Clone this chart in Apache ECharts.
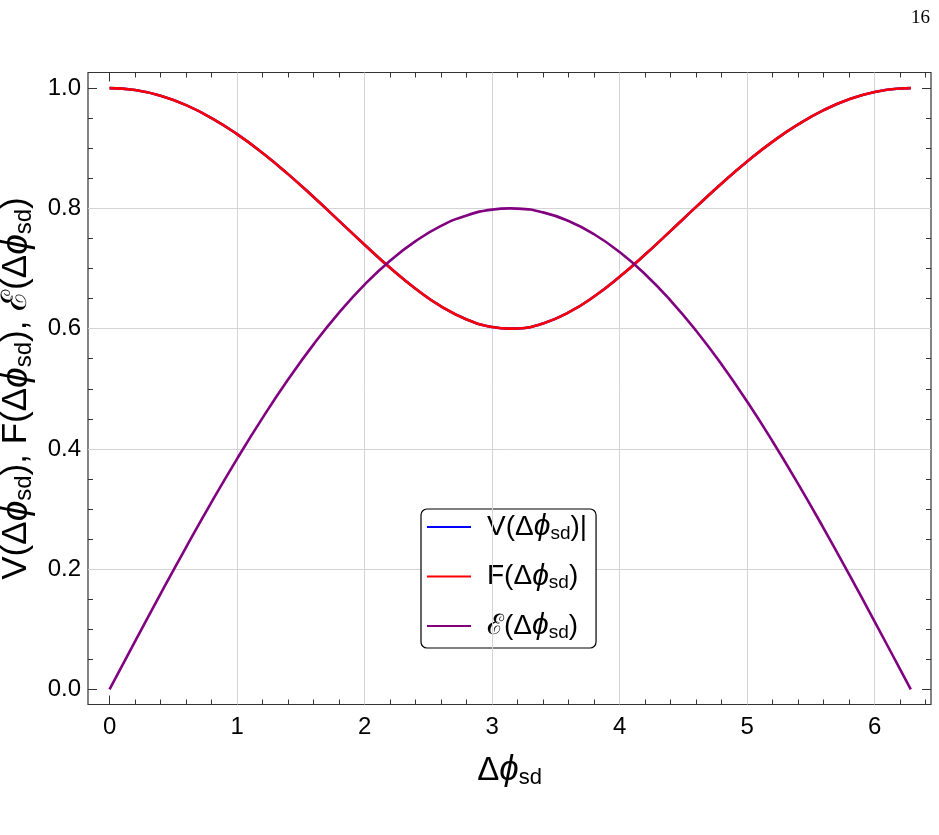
<!DOCTYPE html>
<html>
<head>
<meta charset="utf-8">
<script src="https://cdn.jsdelivr.net/npm/echarts@6/dist/echarts.min.js"></script>
<style>
  html, body { margin: 0; padding: 0; background: #fff; }
  #chart { width: 939px; height: 835px; }
</style>
</head>
<body>
<div id="chart"></div>
<script>
// phase difference samples
var phi = [0, 0.2, 0.4, 0.6, 0.8, 1.0, 1.2, 1.4, 1.6, 1.8, 2.0, 2.2, 2.4, 2.6, 2.8, 3.0,
  3.1416, 3.2, 3.4, 3.6, 3.8, 4.0, 4.2, 4.4, 4.6, 4.8, 5.0, 5.2, 5.4, 5.6, 5.8, 6.0, 6.2, 6.2832];
var fValues = [1, 0.9968, 0.9873, 0.9717, 0.9502, 0.9235, 0.8922, 0.8570, 0.8189, 0.7793, 0.7395,
  0.7012, 0.6664, 0.6370, 0.6153, 0.6027, 0.6, 0.6004, 0.6087, 0.6270, 0.6534, 0.6862, 0.7232,
  0.7627, 0.8025, 0.8414, 0.8779, 0.9110, 0.9397, 0.9634, 0.9815, 0.9936, 0.9994, 1];
var vValues = fValues.slice();
var eValues = [0, 0.0798, 0.1590, 0.2364, 0.3115, 0.3835, 0.4517, 0.5154, 0.5739, 0.6266, 0.6732,
  0.7130, 0.7456, 0.7709, 0.7883, 0.7980, 0.8, 0.7997, 0.7934, 0.7790, 0.7570, 0.7274, 0.6906,
  0.6468, 0.5966, 0.5404, 0.4788, 0.4124, 0.3419, 0.2680, 0.1914, 0.1129, 0.0333, 0];

var xMajor = [0, 1, 2, 3, 4, 5, 6];
var xMinor = [0.2, 0.4, 0.6, 0.8, 1.2, 1.4, 1.6, 1.8, 2.2, 2.4, 2.6, 2.8, 3.2, 3.4, 3.6, 3.8,
  4.2, 4.4, 4.6, 4.8, 5.2, 5.4, 5.6, 5.8, 6.2, 6.4];
var yMajor = [0, 0.2, 0.4, 0.6, 0.8, 1.0];
var yMinor = [0.05, 0.1, 0.15, 0.25, 0.3, 0.35, 0.45, 0.5, 0.55, 0.65, 0.7, 0.75, 0.85, 0.9, 0.95];
var xGrid = [1, 2, 4, 5, 6];
var xGridTop = [3];   // this one shows through the legend box
var yGrid = [0.2, 0.4, 0.6, 0.8];

function pairs(xs, ys) {
  return xs.map(function (x, i) { return [x, ys[i]]; });
}

var FONT = '"Liberation Sans", Arial, sans-serif';
var AXC = '#333';
var X_MIN = -0.169, X_MAX = 6.442, Y_MIN = -0.025, Y_MAX = 1.026;

var richName = {
  n: { fontFamily: FONT, fontSize: 35, color: '#000', lineHeight: 40 },
  p: { fontFamily: FONT, fontSize: 37, fontStyle: 'italic', color: '#000', lineHeight: 40 },
  s: { fontFamily: FONT, fontSize: 24, color: '#000', lineHeight: 24, verticalAlign: 'bottom', padding: [7, 0, 0, 0] }
};
var richX = {
  n: { fontFamily: FONT, fontSize: 33, color: '#000', lineHeight: 36 },
  p: { fontFamily: FONT, fontSize: 35, fontStyle: 'italic', color: '#000', lineHeight: 36 },
  s: { fontFamily: FONT, fontSize: 22, color: '#000', lineHeight: 22, verticalAlign: 'bottom', padding: [6, 0, 0, 0] }
};
var richLeg = {
  n: { fontFamily: FONT, fontSize: 28, color: '#000', lineHeight: 32 },
  p: { fontFamily: FONT, fontSize: 30, fontStyle: 'italic', color: '#000', lineHeight: 32 },
  s: { fontFamily: FONT, fontSize: 19, color: '#000', lineHeight: 19, verticalAlign: 'bottom', padding: [5, 0, 0, 0] }
};

function tickAxis(pos, values, len, labels, extra) {
  var a = {
    type: 'value', position: pos,
    axisLine: { show: false, onZero: false },
    axisTick: { show: true, inside: true, length: len, customValues: values, lineStyle: { color: AXC, width: 1 } },
    axisLabel: { show: false },
    splitLine: { show: false }
  };
  if (pos === 'bottom' || pos === 'top') { a.min = X_MIN; a.max = X_MAX; }
  else { a.min = Y_MIN; a.max = Y_MAX; }
  if (labels) {
    a.axisLabel = { show: true, customValues: values, fontFamily: FONT, fontSize: 24, color: '#000', margin: labels,
      formatter: function (v) { return (pos === 'left') ? v.toFixed(1) : String(Math.round(v)); } };
  }
  if (extra) { for (var k in extra) a[k] = extra[k]; }
  return a;
}

function gridLines(xs, ys) {
  return xs.map(function (v) { return { xAxis: v }; }).concat(ys.map(function (v) { return { yAxis: v }; }));
}

var chart = echarts.init(document.getElementById('chart'));
var option = {
  animation: false,
  backgroundColor: '#fff',
  grid: { left: 88, right: 8, top: 72.5, bottom: 130.5, outerBoundsMode: 'none', containLabel: false,
    show: true, borderColor: AXC, borderWidth: 1.2, backgroundColor: 'transparent' },
  xAxis: [
    tickAxis('bottom', xMajor, 9, 11, {
      name: '{n|Δ}{p|ϕ}{s|sd}', nameLocation: 'middle', nameGap: 48,
      nameTextStyle: { rich: richX }
    }),
    tickAxis('bottom', xMinor, 5),
    tickAxis('top', xMajor, 9),
    tickAxis('top', xMinor, 5)
  ],
  yAxis: [
    tickAxis('left', yMajor, 9, 7, {
      name: '{n|V(Δ}{p|ϕ}{s|sd}{n|), F(Δ}{p|ϕ}{s|sd}{n|), ℰ(Δ}{p|ϕ}{s|sd}{n|)}',
      nameLocation: 'middle', nameGap: 49,
      nameTextStyle: { rich: richName }
    }),
    tickAxis('left', yMinor, 5),
    tickAxis('right', yMajor, 9),
    tickAxis('right', yMinor, 5)
  ],
  legend: {
    orient: 'vertical', left: 421, top: 509, z: 4,
    padding: [3, 9, 6, 6],
    itemGap: 18.5, itemWidth: 44, itemHeight: 2, icon: 'rect',
    borderColor: '#000', borderWidth: 1.2, borderRadius: 6, backgroundColor: '#fff',
    data: ['V', 'F', 'E'],
    formatter: function (name) {
      if (name === 'V') return '{n|V(Δ}{p|ϕ}{s|sd}{n|)|}';
      if (name === 'F') return '{n|F(Δ}{p|ϕ}{s|sd}{n|)}';
      return '{n|ℰ(Δ}{p|ϕ}{s|sd}{n|)}';
    },
    textStyle: { padding: [0, 0, 0, 11], rich: richLeg }
  },
  graphic: [{
    type: 'text', right: 9, top: 9,
    style: { text: '16', font: '19px "Liberation Serif", "DejaVu Serif", serif', fill: '#000' }
  }],
  series: [
    {
      name: 'grid', type: 'line', data: [], silent: true, z: 1,
      markLine: {
        z: 1, silent: true, symbol: 'none', label: { show: false },
        lineStyle: { color: '#d4d4d4', width: 1, type: 'solid' },
        data: gridLines(xGrid, yGrid)
      }
    },
    {
      name: 'gridTop', type: 'line', data: [], silent: true, z: 5,
      markLine: {
        z: 5, silent: true, symbol: 'none', label: { show: false },
        lineStyle: { color: '#d4d4d4', width: 1, type: 'solid' },
        data: gridLines(xGridTop, [])
      }
    },
    { name: 'V', type: 'line', data: pairs(phi, vValues), smooth: true, symbol: 'none', z: 6,
      lineStyle: { color: '#0000ff', width: 2.6 }, itemStyle: { color: '#0000ff' } },
    { name: 'F', type: 'line', data: pairs(phi, fValues), smooth: true, symbol: 'none', z: 7,
      lineStyle: { color: '#ff0000', width: 2.6 }, itemStyle: { color: '#ff0000' } },
    { name: 'E', type: 'line', data: pairs(phi, eValues), smooth: true, symbol: 'none', z: 8,
      lineStyle: { color: '#800080', width: 2.6 }, itemStyle: { color: '#800080' } }
  ]
};
chart.setOption(option);
</script>
</body>
</html>
